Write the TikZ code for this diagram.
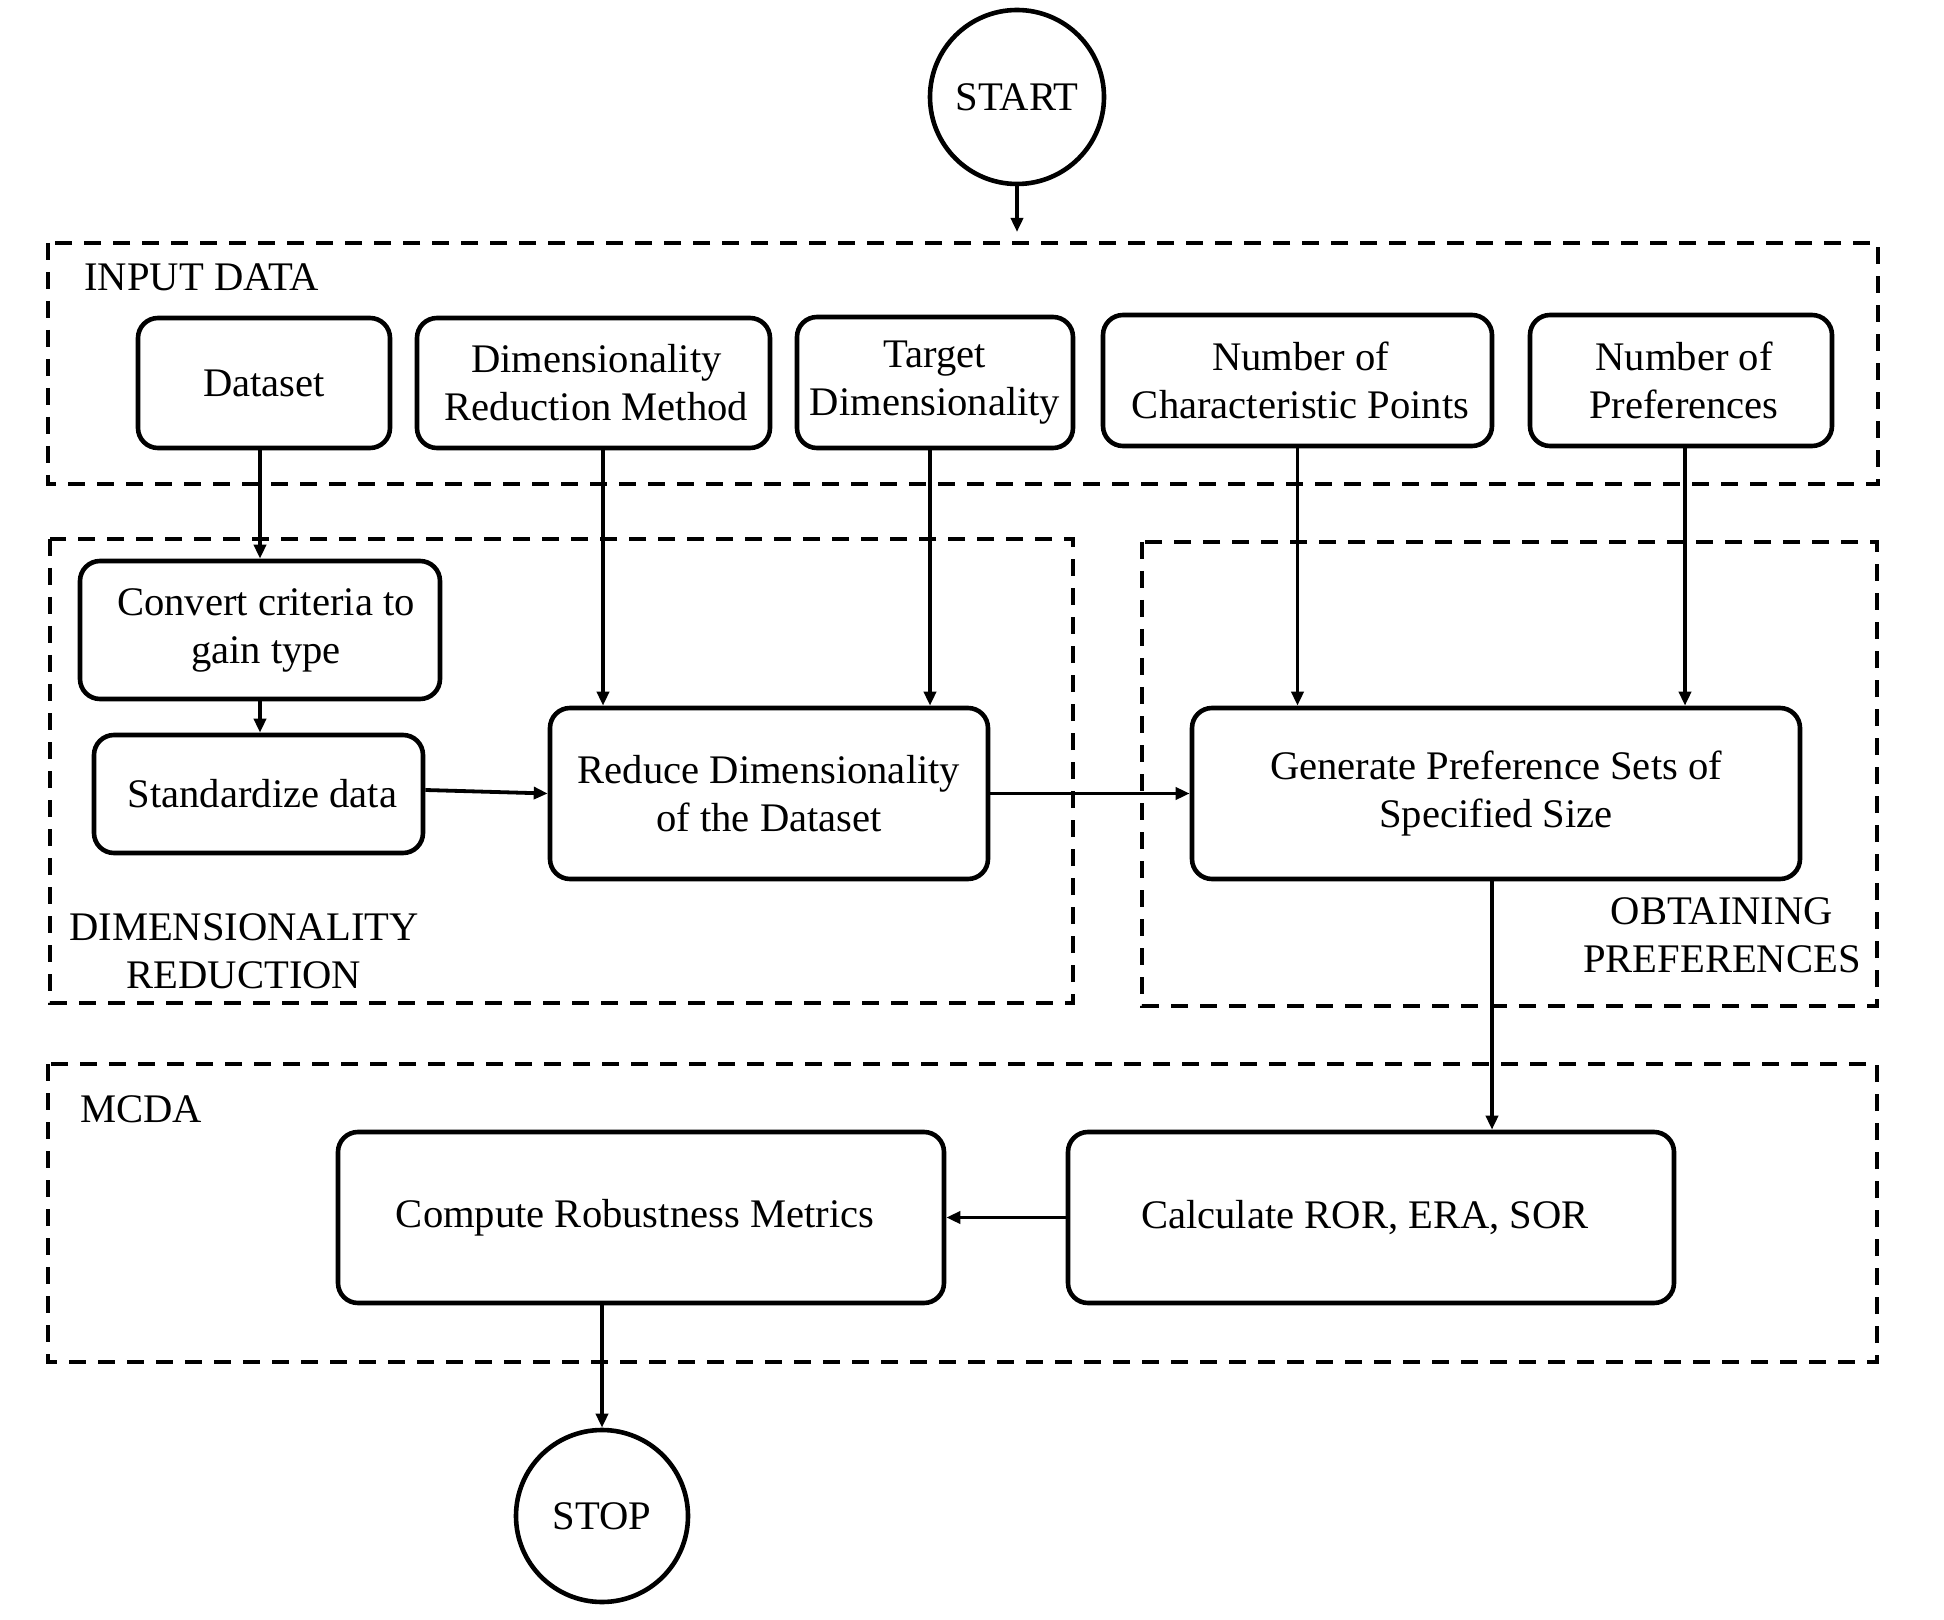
\documentclass[tikz,border=0pt]{standalone}
\usepackage{fontspec}
\setmainfont{Liberation Serif}
\usetikzlibrary{arrows.meta}
\begin{document}
\begin{tikzpicture}[x=0.5pt,y=-0.5pt,
  box/.style={draw, line width=2.3pt, rounded corners=10pt, align=center, inner sep=0pt},
  region/.style={draw, line width=2.3pt, dash pattern=on 8.5pt off 6pt},
  arr/.style={line width=1.9pt, -{Triangle[length=7pt,width=6pt]}},
  term/.style={draw, circle, line width=2.3pt, minimum size=87pt, inner sep=0pt},
  lbl/.style={align=center, inner sep=0pt},
  font=\fontsize{20.3}{24}\selectfont]
\useasboundingbox (0,0) rectangle (1944,1620);
% regions
\draw[region] (48,243) rectangle (1878,484);
\draw[region] (50,539) rectangle (1073,1003);
\draw[region] (1142,542) rectangle (1877,1006);
\draw[region] (48,1064) rectangle (1877,1362);
\node[lbl, anchor=base west] (inlbl) at (84,291) {INPUT DATA};
\node[lbl] (drlbl) at (244,951) {DIMENSIONALITY\\REDUCTION};
\node[lbl] (oplbl) at (1722,935) {OBTAINING\\PREFERENCES};
\node[lbl, anchor=base west] (mclbl) at (80,1122) {MCDA};
% nodes
\node[term] (start) at (1017,97) {START};
\node[term, minimum size=86pt] (stop) at (602,1516) {STOP};
\node[box, minimum width=126pt, minimum height=65pt] (dataset) at (264,383) {Dataset};
\node[box, minimum width=176.5pt, minimum height=65pt] (drm) at (593.5,383) {\hspace*{3pt}Dimensionality\\\hspace*{3pt}Reduction Method};
\node[box, minimum width=138pt, minimum height=65.5pt] (target) at (935,382.5) {Target\\Dimensionality};
\node[box, minimum width=194.5pt, minimum height=65.5pt] (numchar) at (1297.5,380.5) {\hspace*{3pt}Number of\\\hspace*{3pt}Characteristic Points};
\node[box, minimum width=151pt, minimum height=65.5pt] (numpref) at (1681,380.5) {\hspace*{3pt}Number of\\\hspace*{3pt}Preferences};
\node[box, minimum width=180pt, minimum height=69pt] (convert) at (260,630) {\hspace*{6pt}Convert criteria to\\\hspace*{6pt}gain type};
\node[box, minimum width=164.5pt, minimum height=59pt] (stand) at (258.5,794) {\hspace*{4pt}Standardize data};
\node[box, minimum width=219pt, minimum height=85.5pt] (reduce) at (769,793.5) {Reduce Dimensionality\\of the Dataset};
\node[box, minimum width=304pt, minimum height=85.5pt] (generate) at (1496,793.5) {Generate Preference Sets of\\Specified Size};
\node[box, minimum width=303pt, minimum height=85.5pt] (calc) at (1371,1217.5) {Calculate ROR, ERA, SOR\hspace*{6pt}};
\node[box, minimum width=303pt, minimum height=85.5pt] (compute) at (641,1217.5) {Compute Robustness Metrics\hspace*{6pt}};
% connectors
\coordinate (inTop) at (1017,232);
\coordinate (a1) at ([xshift=4.75pt]drm.south);
\coordinate (a2) at ([xshift=-2.5pt]target.south);
\coordinate (a3) at ([xshift=2pt]numpref.south);
\coordinate (a4) at ([xshift=-2pt]generate.south);
\coordinate (s1) at ([yshift=2pt]stand.east);
\draw[arr] (start.south) -- (inTop);
\draw[arr] (dataset.south -| convert.north) -- (convert.north);
\draw[arr] (convert.south) -- (convert.south |- stand.north);
\draw[arr] (a1) -- (a1 |- reduce.north);
\draw[arr] (a2) -- (a2 |- reduce.north);
\draw[arr] (s1) -- (reduce.west);
\draw[arr] (reduce.east) -- (generate.west);
\draw[arr] (numchar.south) -- (numchar.south |- generate.north);
\draw[arr] (a3) -- (a3 |- generate.north);
\draw[arr] (a4) -- (a4 |- calc.north);
\draw[arr] (calc.west) -- (compute.east);
\draw[arr] (compute.south -| stop.north) -- (stop.north);
\end{tikzpicture}
\end{document}
